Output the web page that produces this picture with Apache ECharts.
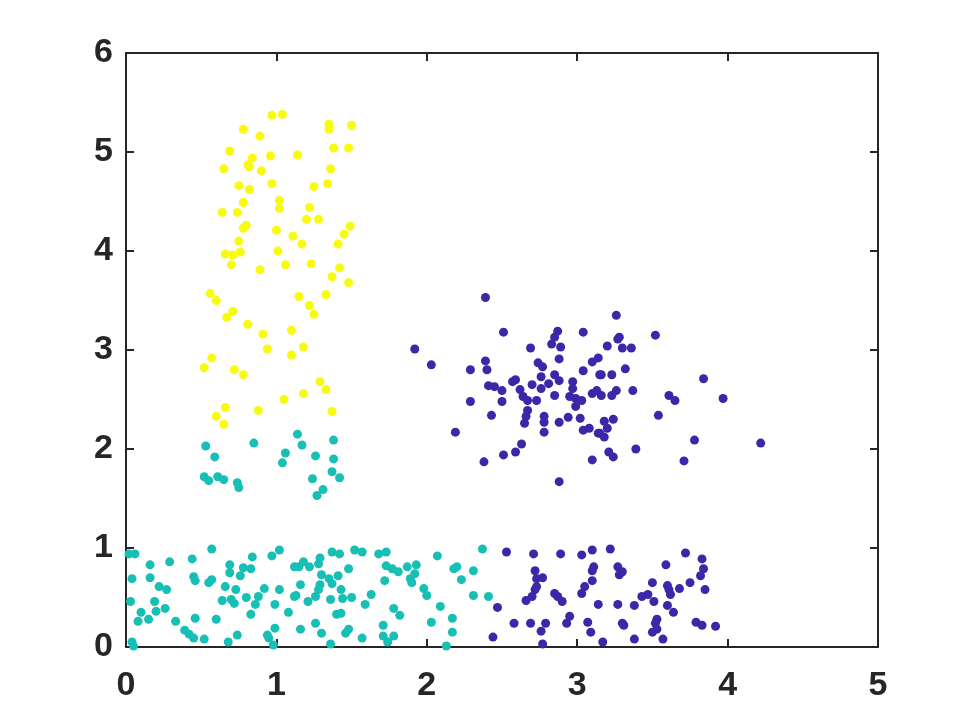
<!DOCTYPE html>
<html>
<head>
<meta charset="utf-8">
<script src="https://cdn.jsdelivr.net/npm/echarts@6/dist/echarts.min.js"></script>
<style>
  html, body { margin: 0; padding: 0; background: #fff; }
  #chart { width: 969px; height: 727px; }
</style>
</head>
<body>
<div id="chart"></div>
<script>
// tick labels
const xTicks = [0, 1, 2, 3, 4, 5]
const yTicks = [0, 1, 2, 3, 4, 5, 6]

// cluster 1 (yellow)
const yellowPts = [
  [0.97, 5.37], [1.04, 5.38], [1.35, 5.28], [1.35, 5.23], [1.50, 5.27], [0.78, 5.23],
  [0.89, 5.16], [0.69, 5.01], [0.96, 4.96], [1.14, 4.97], [1.38, 5.04], [1.48, 5.04],
  [0.84, 4.94], [0.81, 4.87], [0.82, 4.85], [0.90, 4.81], [0.65, 4.83], [1.36, 4.83],
  [0.75, 4.66], [0.82, 4.62], [0.97, 4.68], [1.25, 4.65], [1.34, 4.68], [0.78, 4.49],
  [1.02, 4.51], [1.02, 4.43], [0.64, 4.39], [0.74, 4.39], [1.22, 4.44], [1.20, 4.32],
  [1.28, 4.32], [0.78, 4.23], [0.80, 4.26], [1.00, 4.21], [1.11, 4.15], [1.17, 4.07],
  [1.49, 4.25], [1.45, 4.17], [1.41, 4.07], [0.75, 4.10], [0.66, 3.97], [0.71, 3.96],
  [0.76, 3.99], [1.01, 4.00], [0.70, 3.86], [0.89, 3.81], [1.06, 3.86], [1.23, 3.87],
  [1.42, 3.83], [1.37, 3.74], [1.48, 3.68], [0.56, 3.57], [0.60, 3.50], [1.15, 3.54],
  [1.33, 3.56], [1.22, 3.45], [1.25, 3.36], [0.71, 3.39], [0.67, 3.33], [0.81, 3.26],
  [0.91, 3.16], [1.10, 3.20], [0.94, 3.01], [1.10, 2.95], [1.18, 3.03], [0.57, 2.92],
  [0.52, 2.82], [0.72, 2.80], [0.78, 2.75], [1.29, 2.68], [1.33, 2.60], [1.05, 2.50],
  [1.18, 2.56], [0.66, 2.42], [0.60, 2.33], [0.88, 2.39], [1.37, 2.38], [0.65, 2.25]
]

// cluster 2 (teal)
const tealPts = [
  [1.14, 2.15], [0.85, 2.06], [0.53, 2.03], [0.59, 1.92], [1.17, 2.04], [1.06, 1.96],
  [1.04, 1.86], [1.38, 2.09], [1.26, 1.93], [1.38, 1.90], [0.52, 1.72], [0.55, 1.68],
  [0.61, 1.72], [0.65, 1.69], [0.74, 1.66], [0.75, 1.61], [1.24, 1.70], [1.37, 1.77],
  [1.42, 1.71], [1.31, 1.59], [1.27, 1.53],
  [0.02, 0.94], [0.06, 0.94], [0.57, 0.99], [0.16, 0.83], [0.29, 0.86], [0.44, 0.89],
  [0.04, 0.69], [0.16, 0.70], [0.45, 0.71], [0.46, 0.67], [0.55, 0.65], [0.57, 0.68],
  [0.22, 0.61], [0.27, 0.58], [0.69, 0.83], [0.69, 0.75], [0.76, 0.72], [0.78, 0.80],
  [0.83, 0.79], [0.84, 0.91], [0.97, 0.92], [1.02, 0.98], [1.12, 0.81], [0.66, 0.61],
  [0.73, 0.58], [0.92, 0.59], [1.02, 0.58], [0.03, 0.46], [0.19, 0.46], [0.10, 0.35],
  [0.08, 0.26], [0.15, 0.28], [0.20, 0.36], [0.26, 0.39], [0.33, 0.26], [0.46, 0.29],
  [0.60, 0.28], [0.64, 0.47], [0.70, 0.48], [0.72, 0.44], [0.80, 0.50], [0.86, 0.43],
  [0.88, 0.51], [0.83, 0.33], [0.99, 0.43], [1.08, 0.35], [1.12, 0.51], [0.39, 0.17],
  [0.42, 0.13], [0.45, 0.09], [0.52, 0.08], [0.74, 0.12], [0.68, 0.05], [0.94, 0.12],
  [0.99, 0.19], [0.95, 0.09], [0.98, 0.02], [0.04, 0.05], [0.05, 0.01],
  [1.37, 0.96], [1.42, 0.94], [1.52, 0.98], [1.57, 0.96], [1.68, 0.94], [1.73, 0.96],
  [2.07, 0.92], [1.15, 0.81], [1.18, 0.86], [1.22, 0.81], [1.29, 0.90], [1.28, 0.84],
  [1.48, 0.79], [1.73, 0.82], [1.77, 0.79], [1.81, 0.76], [1.87, 0.81], [1.93, 0.83],
  [1.92, 0.74], [1.89, 0.69], [1.90, 0.65], [1.72, 0.67], [2.18, 0.79], [2.20, 0.81],
  [2.23, 0.68], [1.30, 0.73], [1.35, 0.69], [1.41, 0.72], [1.16, 0.63], [1.29, 0.63],
  [1.37, 0.64], [1.43, 0.58], [1.13, 0.52], [1.21, 0.46], [1.26, 0.51], [1.28, 0.58],
  [1.36, 0.48], [1.44, 0.49], [1.50, 0.50], [1.63, 0.53], [1.59, 0.43], [1.98, 0.59],
  [2.00, 0.52], [1.40, 0.33], [1.43, 0.34], [1.78, 0.39], [1.82, 0.32], [2.09, 0.41],
  [2.17, 0.29], [2.03, 0.25], [2.17, 0.15], [1.16, 0.18], [1.26, 0.24], [1.30, 0.14],
  [1.46, 0.14], [1.48, 0.18], [1.57, 0.09], [1.71, 0.22], [1.71, 0.11], [1.78, 0.11],
  [1.74, 0.05], [1.36, 0.03], [2.13, 0.01],
  [2.37, 0.99], [2.31, 0.77], [2.31, 0.52], [2.41, 0.51]
]

// cluster 3 (purple)
const purplePts = [
  [2.53, 0.96], [2.71, 0.94], [2.89, 0.94], [3.03, 0.93], [3.10, 0.98], [3.22, 0.99],
  [2.72, 0.77], [2.73, 0.69], [2.77, 0.70], [2.73, 0.61], [2.72, 0.58], [2.70, 0.51],
  [2.66, 0.47], [3.11, 0.81], [3.10, 0.77], [3.10, 0.67], [3.05, 0.61], [3.03, 0.54],
  [3.27, 0.81], [3.30, 0.76], [2.85, 0.54], [2.87, 0.51], [2.90, 0.46], [2.47, 0.40],
  [3.14, 0.43], [3.27, 0.43], [3.38, 0.42], [2.58, 0.24], [2.69, 0.24], [2.79, 0.24],
  [2.76, 0.16], [2.95, 0.31], [2.93, 0.24], [3.07, 0.25], [3.09, 0.15], [3.30, 0.24],
  [3.31, 0.22], [2.44, 0.10], [2.77, 0.03], [3.17, 0.05],
  [3.72, 0.95], [3.83, 0.89], [3.84, 0.79], [3.82, 0.72], [3.28, 0.73], [3.59, 0.83],
  [3.50, 0.65], [3.60, 0.62], [3.61, 0.58], [3.62, 0.53], [3.68, 0.59], [3.75, 0.65],
  [3.85, 0.58], [3.43, 0.51], [3.47, 0.53], [3.51, 0.46], [3.60, 0.42], [3.64, 0.35],
  [3.53, 0.28], [3.52, 0.24], [3.53, 0.18], [3.50, 0.15], [3.79, 0.25], [3.83, 0.22],
  [3.92, 0.21], [3.38, 0.08], [3.57, 0.08],
  [2.39, 3.53], [2.51, 3.18], [2.87, 3.19], [2.85, 3.13], [2.83, 3.06], [2.89, 3.03],
  [3.04, 3.18], [1.92, 3.01], [2.03, 2.85], [2.69, 3.02], [2.29, 2.80], [2.39, 2.89],
  [2.40, 2.80], [2.74, 2.87], [2.77, 2.83], [2.88, 2.91], [3.10, 2.88], [3.04, 2.79],
  [2.76, 2.73], [2.85, 2.75], [2.88, 2.69], [2.57, 2.68], [2.59, 2.70], [2.41, 2.64],
  [2.45, 2.63], [2.50, 2.59], [2.70, 2.65], [2.76, 2.61], [2.81, 2.66], [2.62, 2.60],
  [2.64, 2.53], [2.67, 2.49], [2.73, 2.49], [2.85, 2.54], [2.97, 2.68], [2.97, 2.61],
  [2.95, 2.53], [2.99, 2.51], [3.10, 2.56], [2.29, 2.48], [2.50, 2.48], [3.14, 2.92],
  [3.15, 2.75], [3.26, 3.35], [3.52, 3.15], [3.28, 3.13], [3.27, 3.11], [3.20, 3.04],
  [3.30, 3.02], [3.36, 3.02], [3.16, 2.75], [3.23, 2.75], [3.32, 2.81], [3.84, 2.71],
  [3.13, 2.59], [3.16, 2.54], [3.23, 2.54], [3.26, 2.59], [3.37, 2.59], [3.61, 2.54],
  [3.65, 2.49], [3.97, 2.51], [2.43, 2.34], [2.19, 2.17], [2.67, 2.39], [2.66, 2.33],
  [2.65, 2.26], [2.78, 2.33], [2.78, 2.27], [2.78, 2.17], [3.03, 2.49], [2.99, 2.43],
  [2.88, 2.27], [2.94, 2.32], [3.02, 2.31], [3.04, 2.19], [3.08, 2.21], [3.14, 2.16],
  [2.63, 2.05], [2.59, 1.97], [2.51, 1.94], [2.38, 1.87], [3.10, 1.89], [2.88, 1.67],
  [3.54, 2.34], [3.18, 2.28], [3.24, 2.30], [3.15, 2.16], [3.18, 2.12], [3.20, 2.21],
  [3.78, 2.09], [4.22, 2.06], [3.39, 2.00], [3.21, 1.97], [3.24, 1.92], [3.71, 1.88]
]

const ink = '#262626'
const labelFont = { fontFamily: 'Liberation Sans', fontWeight: 'bold', fontSize: 34, color: ink }

function axis (pos, ticks, showLabels, margin) {
  return {
    type: 'value',
    position: pos,
    min: ticks[0],
    max: ticks[ticks.length - 1],
    interval: 1,
    gridIndex: 0,
    axisLine: { show: true, onZero: false, lineStyle: { color: ink, width: 2 } },
    axisTick: { show: true, inside: true, length: 8, lineStyle: { color: ink, width: 2 } },
    axisLabel: Object.assign({ show: showLabels, margin: margin }, labelFont),
    splitLine: { show: false }
  }
}

const chart = echarts.init(document.getElementById('chart'))
chart.setOption({
  backgroundColor: '#ffffff',
  animation: false,
  grid: { left: 126, top: 53, right: 91, bottom: 80 },
  xAxis: [axis('bottom', xTicks, true, 22), axis('top', xTicks, false, 8)],
  yAxis: [axis('left', yTicks, true, 13), axis('right', yTicks, false, 8)],
  series: [
    { type: 'scatter', data: purplePts, symbolSize: 9, itemStyle: { color: '#3e26a8', opacity: 1 } },
    { type: 'scatter', data: tealPts, symbolSize: 9, itemStyle: { color: '#17bfb4', opacity: 1 } },
    { type: 'scatter', data: yellowPts, symbolSize: 9, itemStyle: { color: '#f9fb0e', opacity: 1 } }
  ]
})
window.addEventListener('resize', () => chart.resize())
</script>
</body>
</html>
